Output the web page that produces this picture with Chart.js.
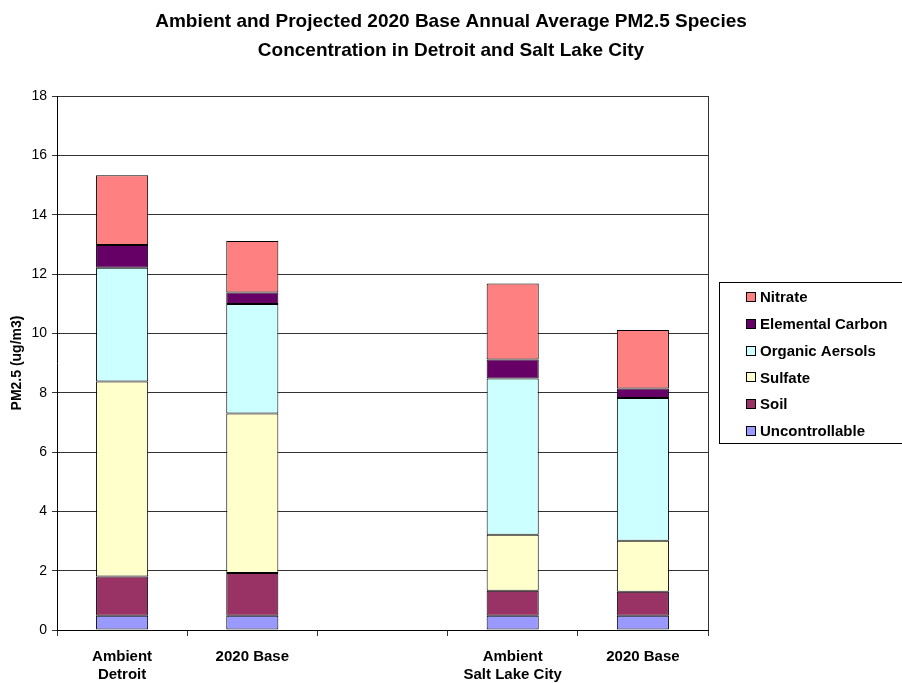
<!DOCTYPE html>
<html>
<head>
<meta charset="utf-8">
<script src="https://cdn.jsdelivr.net/npm/chart.js@4/dist/chart.umd.min.js"></script>
<style>
  html, body { margin: 0; padding: 0; background: #fff; }
  #wrap { width: 902px; height: 683px; position: relative; }
</style>
</head>
<body>
<div id="wrap"><canvas id="c" width="902" height="683"></canvas></div>
<script>
// Sites / scenarios (an empty slot separates Detroit from Salt Lake City)
const categories = [['Ambient', 'Detroit'], '2020 Base', '', ['Ambient', 'Salt Lake City'], '2020 Base'];

// Annual average PM2.5 species concentrations (ug/m3), stacked bottom to top
const uncontrollable = [0.48, 0.48, null, 0.48, 0.48];
const soil           = [1.32, 1.44, null, 0.84, 0.81];
const sulfate        = [6.58, 5.38, null, 1.89, 1.72];
const organicAerosols= [3.83, 3.69, null, 5.27, 4.81];
const elementalCarbon= [0.77, 0.39, null, 0.64, 0.32];
const nitrate        = [2.35, 1.73, null, 2.56, 1.97];

const yTicks = [0, 2, 4, 6, 8, 10, 12, 14, 16, 18];

const titleLines = [
  'Ambient and Projected 2020 Base Annual Average PM2.5 Species',
  'Concentration in Detroit and Salt Lake City'
];

const FONT = '"Liberation Sans", Arial, Helvetica, sans-serif';

function ds(label, data, color) {
  return {
    label, data,
    backgroundColor: color,
    borderColor: '#000',
    borderWidth: 1,
    borderSkipped: false,
    barPercentage: 0.4,
    categoryPercentage: 1.0
  };
}

// Title, plot frame and boxed legend
const decorations = {
  id: 'decorations',
  afterDraw(chart) {
    const ctx = chart.ctx;
    const a = chart.chartArea;
    ctx.save();
    // title
    ctx.fillStyle = '#000';
    ctx.font = 'bold 19px ' + FONT;
    ctx.textAlign = 'center';
    ctx.textBaseline = 'alphabetic';
    titleLines.forEach((t, i) => ctx.fillText(t, 451, 27 + i * 28.5));

    // right frame edge
    ctx.strokeStyle = '#333';
    ctx.lineWidth = 1;
    ctx.beginPath();
    ctx.moveTo(Math.round(a.right) + 0.5, a.top);
    ctx.lineTo(Math.round(a.right) + 0.5, a.bottom);
    ctx.stroke();

    // legend box
    const lx = 719.5, ly = 282.5, lw = 190, lh = 161;
    ctx.fillStyle = '#fff';
    ctx.fillRect(lx, ly, lw, lh);
    ctx.strokeStyle = '#000';
    ctx.strokeRect(lx, ly, lw, lh);
    const items = chart.data.datasets.slice().reverse();
    ctx.font = 'bold 15px ' + FONT;
    ctx.textAlign = 'left';
    ctx.textBaseline = 'middle';
    items.forEach((d, i) => {
      const cy = 297 + i * 26.8;
      ctx.fillStyle = d.backgroundColor;
      ctx.fillRect(746.5, Math.round(cy - 5) + 0.5, 9, 9);
      ctx.strokeStyle = '#000';
      ctx.strokeRect(746.5, Math.round(cy - 5) + 0.5, 9, 9);
      ctx.fillStyle = '#000';
      ctx.fillText(d.label, 760, cy + 1);
    });
    ctx.restore();
  }
};

new Chart(document.getElementById('c'), {
  type: 'bar',
  data: {
    labels: categories,
    datasets: [
      ds('Uncontrollable', uncontrollable, '#9999FF'),
      ds('Soil', soil, '#993366'),
      ds('Sulfate', sulfate, '#FFFFCC'),
      ds('Organic Aersols', organicAerosols, '#CCFFFF'),
      ds('Elemental Carbon', elementalCarbon, '#660066'),
      ds('Nitrate', nitrate, '#FF8080')
    ]
  },
  options: {
    responsive: false,
    animation: false,
    devicePixelRatio: 1,
    layout: { padding: { top: 96, right: 194, left: 0, bottom: 0 } },
    plugins: {
      legend: { display: false },
      title: { display: false },
      tooltip: { enabled: false }
    },
    scales: {
      x: {
        stacked: true,
        offset: true,
        grid: {
          offset: true,
          drawOnChartArea: false,
          drawTicks: true,
          tickLength: 6,
          color: '#333'
        },
        border: { color: '#000', width: 1 },
        ticks: {
          color: '#000',
          padding: 12,
          maxRotation: 0,
          autoSkip: false,
          font: { family: FONT, size: 15, weight: 'bold', lineHeight: 1.2 }
        },
        afterFit(s) { s.height = 53; }
      },
      y: {
        stacked: true,
        min: 0,
        max: 18,
        afterBuildTicks(s) { s.ticks = yTicks.map(v => ({ value: v })); },
        grid: {
          color: '#333',
          lineWidth: 1,
          drawTicks: true,
          tickLength: 5
        },
        border: { color: '#000', width: 1 },
        ticks: {
          color: '#000',
          padding: 5,
          font: { family: FONT, size: 14 }
        },
        title: {
          display: true,
          text: 'PM2.5 (ug/m3)',
          color: '#000',
          padding: { top: 9, bottom: 0 },
          font: { family: FONT, size: 14, weight: 'bold' }
        },
        afterFit(s) { s.width = 57; }
      }
    }
  },
  plugins: [decorations]
});
</script>
</body>
</html>
